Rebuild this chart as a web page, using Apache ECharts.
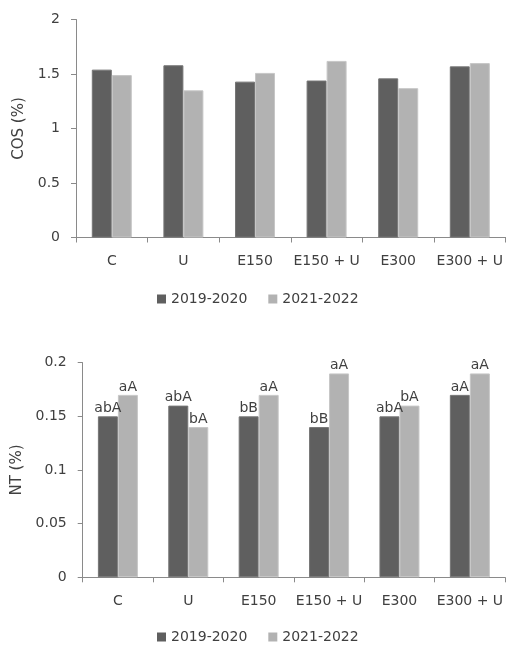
<!DOCTYPE html>
<html>
<head>
<meta charset="utf-8">
<script src="https://cdn.jsdelivr.net/npm/echarts@6/dist/echarts.min.js"></script>
<style>
html,body{margin:0;padding:0;background:#fff;}
#chart{width:506px;height:645px;}
</style>
</head>
<body>
<div id="chart"></div>
<script>
var categories = ['C', 'U', 'E150', 'E150 + U', 'E300', 'E300 + U'];
var seriesNames = ['2019-2020', '2021-2022'];
var cos2019 = [1.54, 1.58, 1.43, 1.44, 1.46, 1.57];
var cos2021 = [1.49, 1.35, 1.51, 1.62, 1.37, 1.60];
var nt2019 = [0.15, 0.16, 0.15, 0.14, 0.15, 0.17];
var nt2021 = [0.17, 0.14, 0.17, 0.19, 0.16, 0.19];
var ntLabels2019 = ['abA', 'abA', 'bB', 'bB', 'abA', 'aA'];
var ntLabels2021 = ['aA', 'bA', 'aA', 'aA', 'bA', 'aA'];
var cosTicks = [0, 2, 0.5];
var ntTicks = [0, 0.2, 0.05];

var FONT = 'DejaVu Sans';
var TXT = '#404040';
var AX = '#8a8a8a';
var DARK = '#5f5f5f';
var LIGHT = '#b2b2b2';
var DARK_EDGE = '#757575';
var LIGHT_EDGE = '#c6c6c6';

function xAxisCfg(gi) {
  return {
    type: 'category', gridIndex: gi, data: categories,
    axisLine: { lineStyle: { color: AX, width: 1 } },
    axisTick: { show: true, length: 5, lineStyle: { color: AX } },
    axisLabel: { color: TXT, fontFamily: FONT, fontSize: 14, margin: 17, interval: 0 }
  };
}
function yAxisCfg(gi, ticks, name, gap) {
  return {
    type: 'value', gridIndex: gi, min: ticks[0], max: ticks[1], interval: ticks[2],
    name: name, nameLocation: 'middle', nameGap: gap, nameRotate: 90,
    nameTextStyle: { color: TXT, fontFamily: FONT, fontSize: 15 },
    axisLine: { show: true, lineStyle: { color: AX, width: 1 } },
    axisTick: { show: true, length: 5, lineStyle: { color: AX } },
    splitLine: { show: false },
    axisLabel: { color: TXT, fontFamily: FONT, fontSize: 14, margin: 16 }
  };
}
function barSeries(name, data, xi, color, edge, labels) {
  var s = {
    name: name, type: 'bar', xAxisIndex: xi, yAxisIndex: xi,
    data: data, barWidth: 20, barGap: '0%',
    itemStyle: { color: color, borderColor: edge, borderWidth: 1 },
    emphasis: { disabled: true }
  };
  if (labels) {
    s.label = {
      show: true, position: 'top', distance: 1,
      color: TXT, fontFamily: FONT, fontSize: 14,
      formatter: function (p) { return labels[p.dataIndex]; }
    };
  }
  return s;
}
function legendCfg(top) {
  return {
    data: seriesNames, left: 157, top: top, icon: 'rect', padding: 0,
    itemWidth: 9, itemHeight: 9, itemGap: 21,
    itemStyle: { borderWidth: 0 },
    textStyle: { color: TXT, fontFamily: FONT, fontSize: 14, padding: [0, 0, 0, 0] }
  };
}

var chart = echarts.init(document.getElementById('chart'), null, { renderer: 'canvas' });
chart.setOption({
  animation: false,
  backgroundColor: '#ffffff',
  color: [DARK, LIGHT],
  legend: [legendCfg(292), legendCfg(630)],
  grid: [
    { left: 76, right: 0, top: 19.5, height: 218, containLabel: false },
    { left: 82.7, right: 0, top: 362.7, height: 214.6, containLabel: false }
  ],
  xAxis: [xAxisCfg(0), xAxisCfg(1)],
  yAxis: [yAxisCfg(0, cosTicks, 'COS (%)', 47), yAxisCfg(1, ntTicks, 'NT (%)', 53)],
  series: [
    barSeries(seriesNames[0], cos2019, 0, DARK, DARK_EDGE),
    barSeries(seriesNames[1], cos2021, 0, LIGHT, LIGHT_EDGE),
    barSeries(seriesNames[0], nt2019, 1, DARK, DARK_EDGE, ntLabels2019),
    barSeries(seriesNames[1], nt2021, 1, LIGHT, LIGHT_EDGE, ntLabels2021)
  ]
});
</script>
</body>
</html>
